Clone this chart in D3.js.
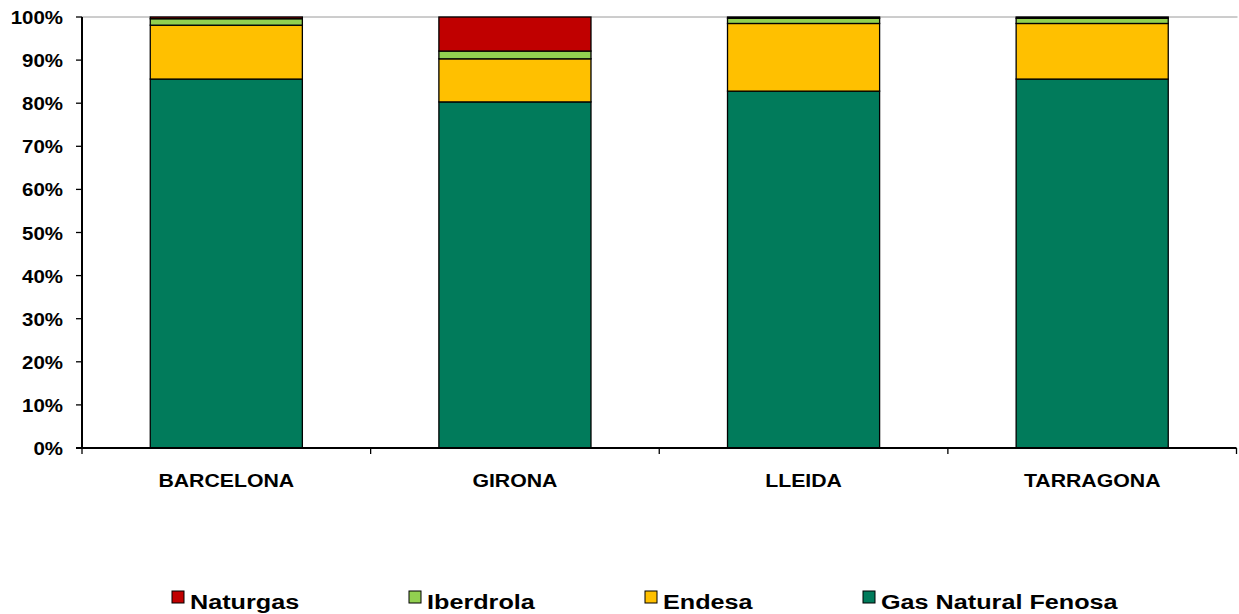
<!DOCTYPE html>
<html>
<head>
<meta charset="utf-8">
<script src="https://cdn.jsdelivr.net/npm/d3@7"></script>
<style>
  html, body { margin: 0; padding: 0; background: #fff; }
  svg { display: block; font-family: Arial, "Liberation Sans", sans-serif; font-weight: bold; }
</style>
</head>
<body>
<svg id="chart" width="1239" height="614"></svg>
<script>
// ---- data ----
const categories = ["BARCELONA", "GIRONA", "LLEIDA", "TARRAGONA"];
const seriesNames = ["Gas Natural Fenosa", "Endesa", "Iberdrola", "Naturgas"];
const gasNaturalFenosa = [85.6, 80.3, 82.8, 85.6];
const endesa = [12.5, 10.0, 15.7, 12.9];
const iberdrola = [1.5, 1.8, 1.2, 1.2];
const naturgas = [0.4, 7.9, 0.3, 0.3];
const yTicks = [0, 10, 20, 30, 40, 50, 60, 70, 80, 90, 100];
const legendOrder = ["Naturgas", "Iberdrola", "Endesa", "Gas Natural Fenosa"];

(function () {
const colors = {
  "Gas Natural Fenosa": "#017B5B",
  "Endesa": "#FFC000",
  "Iberdrola": "#92D050",
  "Naturgas": "#C00000"
};

const rows = categories.map((c, i) => ({
  cat: c,
  "Gas Natural Fenosa": gasNaturalFenosa[i],
  "Endesa": endesa[i],
  "Iberdrola": iberdrola[i],
  "Naturgas": naturgas[i]
}));

const svg = d3.select("#chart");
const mLeft = 82, mRight = 1236.5, mTop = 17, mBottom = 448;

const x = d3.scaleBand().domain(categories).range([mLeft, mRight])
  .paddingInner(0.473).paddingOuter(0.2365);
const y = d3.scaleLinear().domain([0, 100]).range([mBottom, mTop]);

const stacked = d3.stack().keys(seriesNames)(rows);

// top border line
svg.append("line")
  .attr("x1", mLeft).attr("x2", mRight + 1)
  .attr("y1", y(100)).attr("y2", y(100))
  .attr("stroke", "#9a9a9a").attr("stroke-width", 1);

// bars
svg.append("g").selectAll("g").data(stacked).join("g")
  .attr("fill", d => colors[d.key])
  .selectAll("rect").data(d => d).join("rect")
  .attr("x", d => x(d.data.cat))
  .attr("width", x.bandwidth())
  .attr("y", d => y(d[1]))
  .attr("height", d => y(d[0]) - y(d[1]))
  .attr("stroke", "#000")
  .attr("stroke-width", 1.3);

// helper for horizontally stretched text
function stretchedText(g, tx, ty, txt, size, sx, anchor) {
  const gg = g.append("g").attr("transform", `translate(${tx},${ty}) scale(${sx},1)`);
  gg.append("text").attr("x", 0).attr("y", 0)
    .attr("font-size", size).attr("text-anchor", anchor)
    .attr("fill", "#000").text(txt);
}

// y axis
const yAxis = svg.append("g");
yAxis.append("line").attr("x1", mLeft).attr("x2", mLeft)
  .attr("y1", y(0)).attr("y2", y(100)).attr("stroke", "#000").attr("stroke-width", 2);
yTicks.forEach(t => {
  yAxis.append("line").attr("x1", mLeft - 6).attr("x2", mLeft)
    .attr("y1", y(t)).attr("y2", y(t)).attr("stroke", "#000").attr("stroke-width", 1.3);
  stretchedText(yAxis, 63, y(t) + 7, t + "%", 17.5, 1.17, "end");
});

// x axis
const xAxis = svg.append("g");
xAxis.append("line").attr("x1", mLeft - 6).attr("x2", mRight)
  .attr("y1", y(0)).attr("y2", y(0)).attr("stroke", "#000").attr("stroke-width", 2);
const step = x.step();
d3.range(categories.length + 1).forEach(k => {
  const xx = mLeft + step * k;
  xAxis.append("line").attr("x1", xx).attr("x2", xx)
    .attr("y1", y(0)).attr("y2", y(0) + 6).attr("stroke", "#000").attr("stroke-width", 1.3);
});
categories.forEach(c => {
  stretchedText(xAxis, x(c) + x.bandwidth() / 2, 487, c, 19, 1.12, "middle");
});

// legend
const legendX = [172, 409, 645, 863];
const legend = svg.append("g");
legendOrder.forEach((name, i) => {
  legend.append("rect").attr("x", legendX[i]).attr("y", 591)
    .attr("width", 12).attr("height", 12)
    .attr("fill", colors[name]).attr("stroke", "#000").attr("stroke-width", 1);
  stretchedText(legend, legendX[i] + 18, 609, name, 21, 1.2, "start");
});
})();
</script>
</body>
</html>
